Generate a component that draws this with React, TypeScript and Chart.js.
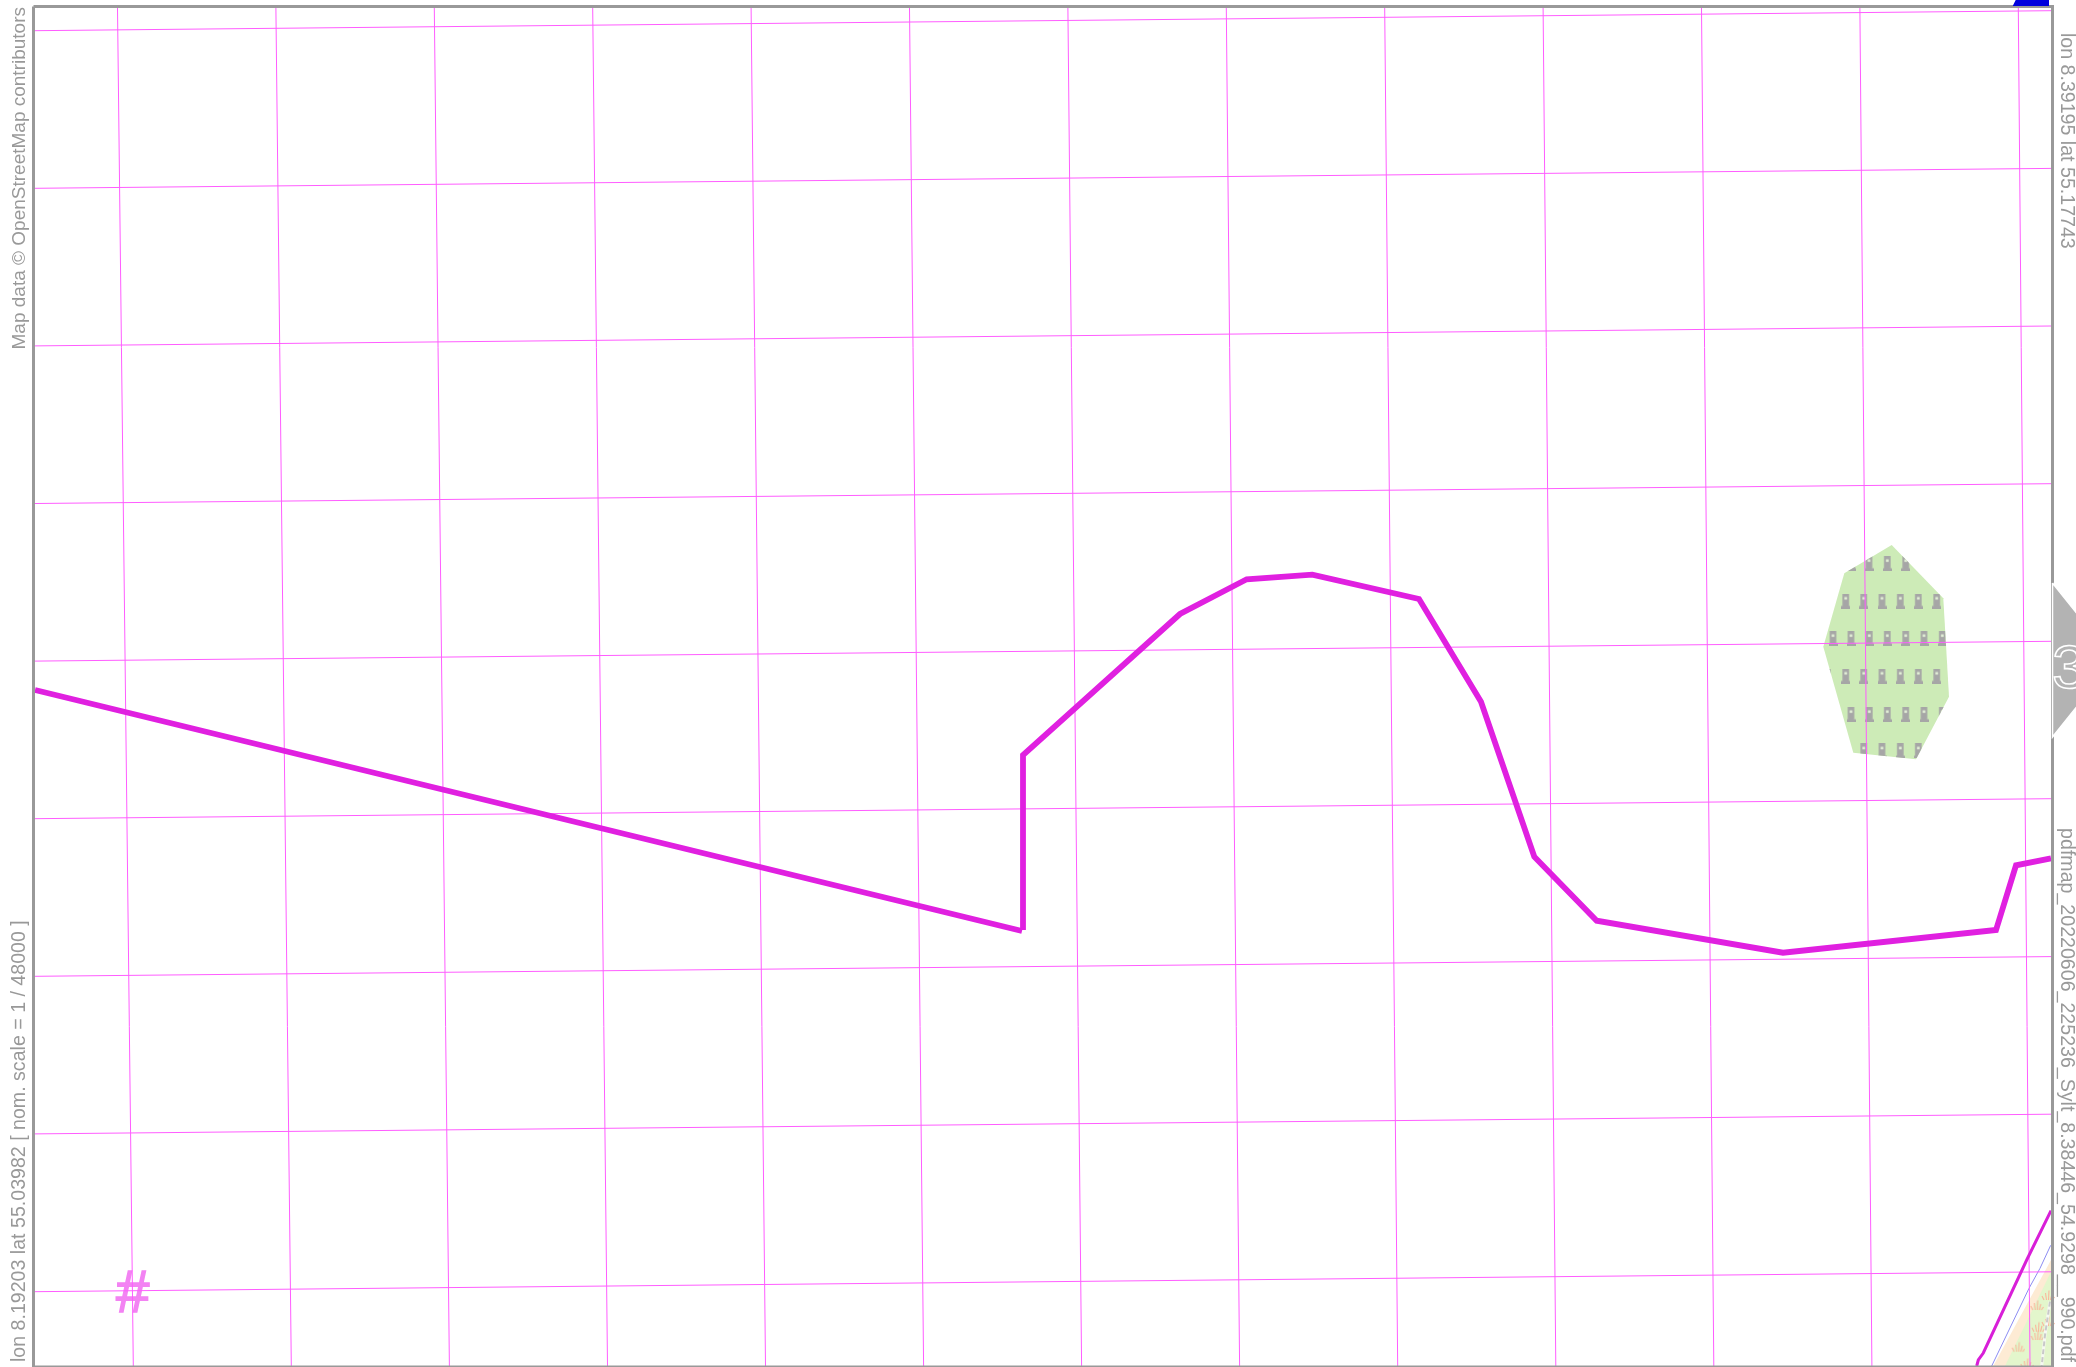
import React, { useEffect, useRef } from "react";
import { Chart, registerables } from "chart.js";

Chart.register(...registerables);

const gridTopX = [117.5, 275.9, 434.3, 592.7, 751.1, 909.5, 1067.9, 1226.3, 1384.7, 1543.1, 1701.5, 1859.9, 2018.3];
const gridBottomX = [133.3, 291.3, 449.4, 607.5, 765.5, 923.6, 1081.6, 1239.6, 1397.7, 1555.8, 1713.8, 1871.9, 2030];
const gridLeftY = [30.7, 188.3, 345.9, 503.5, 661.1, 818.7, 976.3, 1133.9, 1291.7];
const gridRightY = [10.7, 168.4, 326, 483.7, 641.3, 798.7, 956.6, 1114.2, 1271.8];

const routeWestX = [35, 1022];
const routeWestY = [690, 931];
const routeEastX = [1023, 1023, 1180, 1246.7, 1312.3, 1419, 1481, 1534.3, 1596.7, 1783, 1996, 2016, 2051];
const routeEastY = [930, 755, 614, 579.3, 574.7, 599, 701.7, 856.7, 920.7, 952.7, 930, 865.3, 858.3];
const routeSouthX = [2051, 2026.7, 1983.3, 1978.3, 1976.7];
const routeSouthY = [1210.7, 1260, 1353, 1360, 1366];

const islandX = [1891.7, 1943.3, 1949, 1916, 1853.3, 1823.3, 1844.3];
const islandY = [545, 598.3, 696.7, 759.3, 752.7, 646.7, 573.3];
const iconX = [
  1851.7, 1869, 1887.3, 1905.7,
  1845.7, 1863.7, 1882, 1900.3, 1918.3, 1936.7,
  1833, 1851, 1869.3, 1887.3, 1905.7, 1924, 1942.3,
  1827.3, 1845.7, 1863.7, 1882, 1900.3, 1918.3, 1936.7,
  1851, 1869.3, 1887.3, 1905.7, 1924, 1942.3,
  1863.7, 1882, 1900.3, 1918.3,
];
const iconY = [
  563.3, 563.3, 563.3, 563.3,
  601, 601, 601, 601, 601, 601,
  638.3, 638.3, 638.3, 638.3, 638.3, 638.3, 638.3,
  676, 676, 676, 676, 676, 676, 676,
  714.3, 714.3, 714.3, 714.3, 714.3, 714.3,
  750.7, 750.7, 750.7, 750.7,
];

const shoreX = [2051, 1993.3, 2051];
const shoreY = [1260, 1366, 1366];
const meadowX = [2051, 2005, 2051];
const meadowY = [1271.7, 1366, 1366];
const tuftX = [2036.7, 2038, 2037.3, 2018.3, 2026.7, 2048, 2048];
const tuftY = [1305, 1326.7, 1335, 1346.7, 1363, 1295, 1321];
const coastX = [2050.7, 2040, 2029, 1991.7];
const coastY = [1245.3, 1268.3, 1288.3, 1366];
const trackX = [2050, 2045, 2041.7];
const trackY = [1301.7, 1335, 1366];

const frameX = [33.5, 2052.5, 2052.5, 33.5, 33.5];
const frameY = [6.5, 6.5, 1367, 1367, 6.5];
const topMarkX = [2012.7, 2015.7, 2049, 2049];
const topMarkY = [6, 0, 0, 6];
const tabX = [2052.5, 2114, 2052.5];
const tabY = [583, 660, 737];

const leftTop = "Map data © OpenStreetMap contributors";
const leftBottom = "lon 8.19203 lat 55.03982 [ nom. scale = 1 / 48000 ]";
const rightTop = "lon 8.39195 lat 55.17743";
const rightBottom = "pdfmap_20220606_225236_Sylt_8.38446_54.9298__990.pdf";
const overlapLabel = "#";
const pageLabel = "3";

const pts = (xs: number[], ys: number[]) => xs.map((x, i) => ({ x, y: ys[i] }));

function makeIcon() {
  const c = document.createElement("canvas");
  c.width = 9;
  c.height = 15;
  const g = c.getContext("2d")!;
  g.fillStyle = "#a6a6a6";
  g.fillRect(1.2, 0, 6.6, 13);
  g.fillRect(0, 12.5, 9, 2.5);
  g.fillStyle = "#e4f2d8";
  g.fillRect(3.2, 3.5, 2.6, 2.6);
  return c;
}

function makeTuft() {
  const c = document.createElement("canvas");
  c.width = 14;
  c.height = 12;
  const g = c.getContext("2d")!;
  g.strokeStyle = "#f9b79b";
  g.lineWidth = 1.1;
  const strokes = [[3, 11, 1, 7], [5.5, 11, 4.5, 4], [7.5, 11, 8, 1.5], [9.5, 11, 11, 5], [11.5, 11, 13.5, 8]];
  strokes.forEach(([a, b, d, e]) => {
    g.beginPath();
    g.moveTo(a, b);
    g.lineTo(d, e);
    g.stroke();
  });
  return c;
}

const textPlugin = {
  id: "mapTexts",
  beforeDatasetsDraw(chart: any) {
    const { ctx, scales } = chart;
    ctx.save();
    ctx.font = "60px 'Liberation Sans'";
    ctx.textAlign = "center";
    ctx.textBaseline = "alphabetic";
    ctx.fillStyle = "#f383f3";
    ctx.strokeStyle = "#f383f3";
    ctx.lineWidth = 1.5;
    const hx = scales.x.getPixelForValue(132.7);
    const hy = scales.y.getPixelForValue(1312);
    ctx.fillText(overlapLabel, hx, hy);
    ctx.strokeText(overlapLabel, hx, hy);
    ctx.restore();
  },
  afterDraw(chart: any) {
    const { ctx, scales } = chart;
    const sx = scales.x;
    const sy = scales.y;
    const put = (t: string, x: number, y: number, rot: number, align: CanvasTextAlign, size: number) => {
      ctx.save();
      ctx.translate(sx.getPixelForValue(x), sy.getPixelForValue(y));
      ctx.rotate(rot);
      ctx.font = size + "px 'Liberation Sans'";
      ctx.fillStyle = "#999999";
      ctx.textAlign = align;
      ctx.textBaseline = "alphabetic";
      ctx.fillText(t, 0, 0);
      ctx.restore();
    };
    put(leftTop, 25, 7, -Math.PI / 2, "right", 19);
    put(leftBottom, 25, 1362, -Math.PI / 2, "left", 19.6);
    put(rightTop, 2061, 33, Math.PI / 2, "left", 19.6);
    put(rightBottom, 2061, 1362, Math.PI / 2, "right", 19.6);

    ctx.save();
    ctx.textAlign = "left";
    ctx.textBaseline = "alphabetic";
    ctx.font = "62px 'Liberation Sans'";
    ctx.lineWidth = 1.6;
    ctx.strokeStyle = "#ffffff";
    ctx.strokeText(pageLabel, sx.getPixelForValue(2052), sy.getPixelForValue(688));
    ctx.restore();
  },
};

const islandClip = {
  id: "islandClip",
  beforeDatasetDraw(chart: any, args: any) {
    if (chart.data.datasets[args.index].label !== "icons") return;
    const { ctx, scales } = chart;
    ctx.save();
    ctx.beginPath();
    islandX.forEach((x, i) => {
      const px = scales.x.getPixelForValue(x);
      const py = scales.y.getPixelForValue(islandY[i]);
      if (i === 0) ctx.moveTo(px, py);
      else ctx.lineTo(px, py);
    });
    ctx.closePath();
    ctx.clip();
  },
  afterDatasetDraw(chart: any, args: any) {
    if (chart.data.datasets[args.index].label !== "icons") return;
    chart.ctx.restore();
  },
};

export default function App() {
  const ref = useRef<HTMLCanvasElement>(null);
  useEffect(() => {
    const line = (label: string, xs: number[], ys: number[], color: string, width: number, order: number, extra: any = {}) => ({
      label,
      data: pts(xs, ys),
      showLine: true,
      borderColor: color,
      borderWidth: width,
      pointRadius: 0,
      tension: 0,
      borderCapStyle: "butt",
      borderJoinStyle: "miter",
      order,
      ...extra,
    });
    const area = (label: string, xs: number[], ys: number[], color: string, order: number, extra: any = {}) =>
      line(label, [...xs, xs[0]], [...ys, ys[0]], "rgba(0,0,0,0)", 0, order, {
        fill: "shape",
        backgroundColor: color,
        ...extra,
      });

    const datasets: any[] = [
      area("shore", shoreX, shoreY, "#fdebd4", 100),
      area("meadow", meadowX, meadowY, "#e3f6cc", 99),
      {
        label: "tufts",
        data: pts(tuftX, tuftY),
        pointStyle: makeTuft(),
        pointRadius: 6,
        showLine: false,
        order: 98,
      },
      line("trackBase", trackX, trackY, "#f6f8f2", 3, 97),
      line("track", trackX, trackY, "#c9c9c9", 2, 96, { borderDash: [5, 3] }),
      area("island", islandX, islandY, "#cdebb7", 95),
      {
        label: "icons",
        data: pts(iconX, iconY),
        pointStyle: makeIcon(),
        pointRadius: 7,
        showLine: false,
        order: 94,
      },
      line("coast", coastX, coastY, "#8c8cf2", 1, 93),
    ];
    gridTopX.forEach((x, i) => {
      datasets.push(line("v" + i, [x, gridBottomX[i]], [8, 1366], "#ff5cff", 1, 50));
    });
    gridLeftY.forEach((y, i) => {
      datasets.push(line("h" + i, [35, 2051], [y, gridRightY[i]], "#ff5cff", 1, 50));
    });
    datasets.push(
      line("routeWest", routeWestX, routeWestY, "#e020e0", 5.8, 20),
      line("routeEast", routeEastX, routeEastY, "#e020e0", 5.8, 19),
      line("routeSouth", routeSouthX, routeSouthY, "#d81fd8", 3, 18),
      line("frame", frameX, frameY, "#999999", 3, 10),
      area("topMark", topMarkX, topMarkY, "#0000dd", 9),
      line("tab", [...tabX, tabX[0]], [...tabY, tabY[0]], "#ffffff", 1.5, 8, { fill: "shape", backgroundColor: "#b3b3b3" })
    );

    const chart = new Chart(ref.current!, {
      type: "scatter",
      data: { datasets },
      plugins: [islandClip, textPlugin],
      options: {
        animation: false,
        responsive: false,
        devicePixelRatio: 1,
        layout: { padding: 0, autoPadding: false },
        plugins: { legend: { display: false }, tooltip: { enabled: false } },
        events: [],
        scales: {
          x: { type: "linear", display: false, min: 0, max: 2076 },
          y: { type: "linear", display: false, min: 0, max: 1367, reverse: true },
        },
      },
    } as any);
    return () => chart.destroy();
  }, []);
  return (
    <div style={{ position: "fixed", left: 0, top: 0, width: 2076, height: 1367, background: "#ffffff", overflow: "hidden" }}>
      <canvas ref={ref} width={2076} height={1367} style={{ display: "block", width: 2076, height: 1367 }} />
    </div>
  );
}
